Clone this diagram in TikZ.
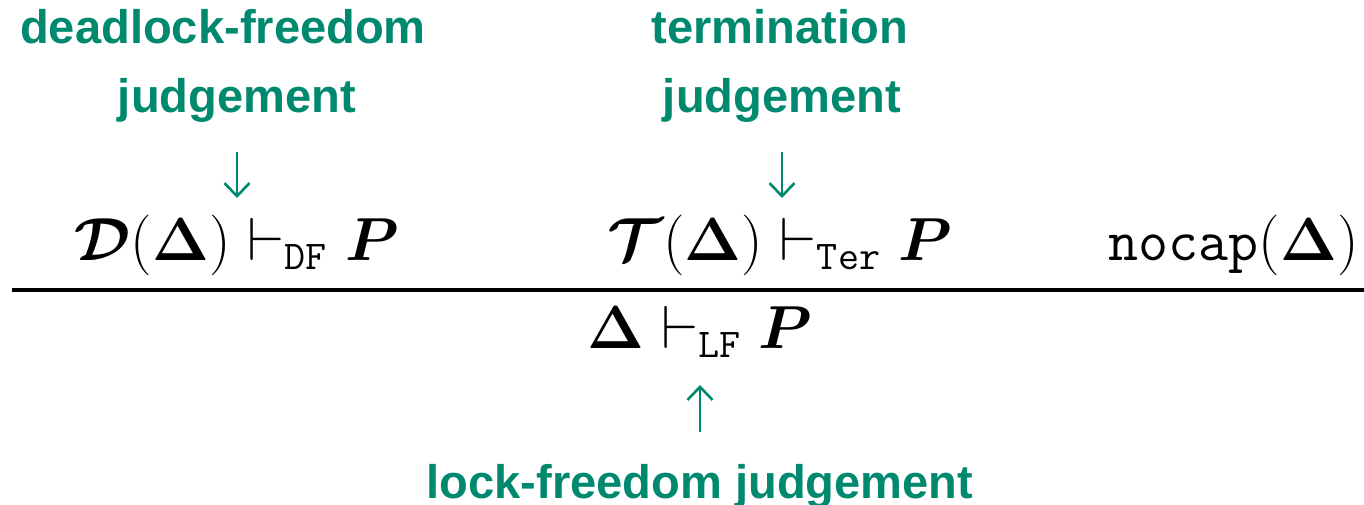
\documentclass[tikz,border=0pt]{standalone}
\usepackage{amsmath,amssymb,bm}
\usepackage{fontspec}
\setsansfont{Liberation Sans}
\usepackage{xcolor}
\usepackage{tikz}
\usetikzlibrary{arrows.meta, positioning, calc}

\definecolor{judgegreen}{RGB}{0,137,111}

\begin{document}
\begin{tikzpicture}[
    judgelabel/.style={anchor=base, inner sep=0pt, text=judgegreen,
      font=\fontsize{13.4}{17}\selectfont\sffamily\bfseries},
    formula/.style={anchor=base, inner sep=0pt, font=\fontsize{16.6}{19}\selectfont},
    judgearrow/.style={judgegreen, line width=0.75pt,
      -{Straight Barb[length=1.3mm, width=2.5mm]}}
  ]
  \useasboundingbox (0,0) rectangle (13.64,5.04);

  %--- premises ---
  \node[formula] (df) at (2.37,2.44)
    {$\bm{\mathcal{D}}(\bm{\Delta}) \vdash_{\mathtt{DF}} \bm{P}$};
  \node[formula] (ter) at (7.80,2.44)
    {$\bm{\mathcal{T}}(\bm{\Delta}) \vdash_{\mathtt{Ter}} \bm{P}$};
  \node[formula] (nocap) at (12.335,2.44)
    {$\texttt{nocap}(\bm{\Delta})$};

  % inference rule
  \coordinate (rulel) at (0.12,2.14);
  \coordinate (ruler) at (13.64,2.14);
  \draw[line width=1.1pt] (rulel) -- (ruler);

  %--- conclusion ---
  \node[formula] (lf) at (7.00,1.56)
    {$\bm{\Delta} \vdash_{\mathtt{LF}} \bm{P}$};

  %--- labels ---
  \node[judgelabel] (dfname) at (2.23,4.61) {deadlock-freedom};
  \node[judgelabel] (dfjudge) at (2.37,3.92) {judgement};
  \node[judgelabel] (tername) at (7.80,4.61) {termination};
  \node[judgelabel] (terjudge) at (7.82,3.92) {judgement};
  \node[judgelabel] (lfjudge) at (7.00,0.06) {lock-freedom judgement};

  % arrows to the judgements
  \draw[judgearrow, shorten <=0.40cm, shorten >=0.62cm]
    (dfjudge.base) -- (dfjudge.base |- df.base);
  \draw[judgearrow, shorten <=0.40cm, shorten >=0.62cm]
    (terjudge.base) -- (terjudge.base |- ter.base);
  \draw[judgearrow, shorten <=0.66cm, shorten >=0.37cm]
    (lfjudge.base) -- (lfjudge.base |- lf.base);
\end{tikzpicture}
\end{document}
